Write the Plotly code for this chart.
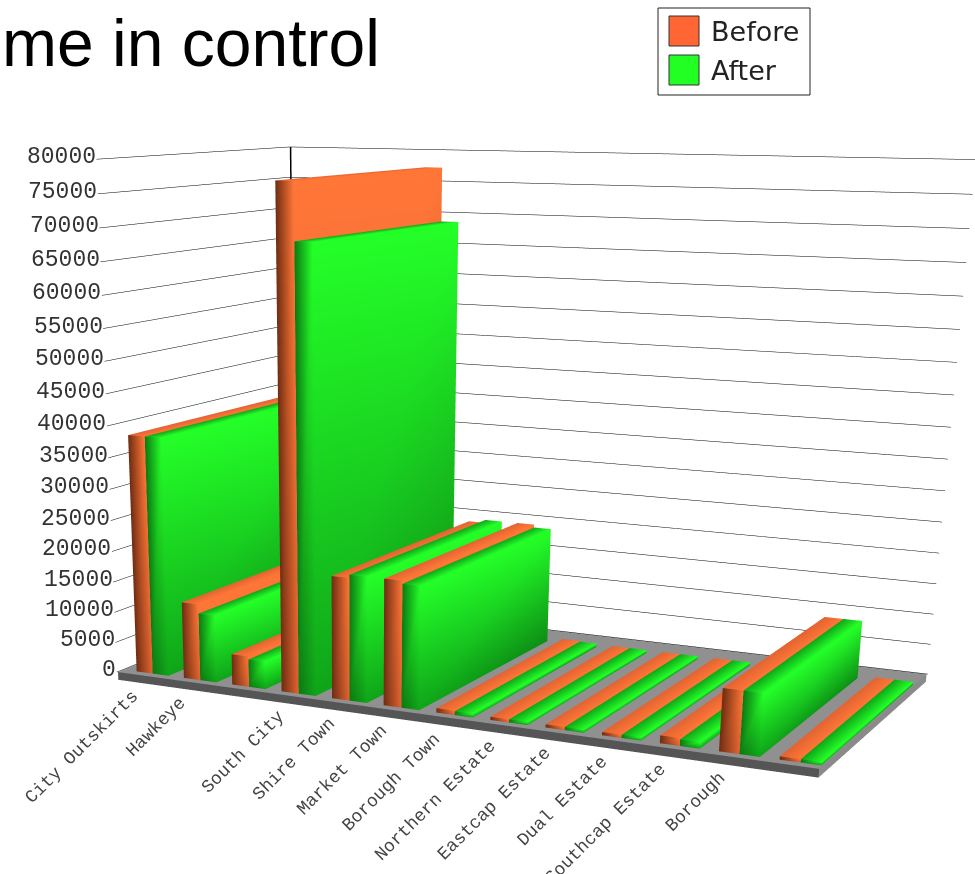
import plotly.graph_objects as go

categories = ["City Outskirts", "Hawkeye", "", "South City", "Shire Town", "Market Town", "Borough Town",
              "Northern Estate", "Eastcap Estate", "Dual Estate", "Southcap Estate", "Borough", ""]
before = [38500, 12500, 5000, 77500, 19500, 20000, 700, 500, 500, 500, 1200, 9500, 500]
after = [38500, 11000, 4500, 69000, 20000, 19500, 600, 500, 500, 500, 1000, 9500, 500]
value_ticks = list(range(0, 80001, 5000))
FIG_W, FIG_H, SHIFT = 1236, 1874, 261


def rgb(c):
    return "rgb(%d,%d,%d)" % c


def bars(values, off, width, dark, mid, bright, name):
    xs, ys, zs, i, j, k, col = [], [], [], [], [], [], []
    deep = tuple((a + b) // 2 for a, b in zip(dark, mid))

    def quad(pts, cols):
        n = len(xs)
        for p, c in zip(pts, cols):
            xs.append(p[0]); ys.append(p[1]); zs.append(p[2]); col.append(rgb(c))
        i.extend([n, n]); j.extend([n + 1, n + 2]); k.extend([n + 2, n + 3])

    y0, y1 = 0.03, 0.87
    for c, v in enumerate(values):
        x0, x1 = c + off, c + off + width
        quad([(x0, y0, v), (x1, y0, v), (x1, y1, v), (x0, y1, v)], [mid, bright, bright, mid])
        quad([(x0, y0, 0), (x1, y0, 0), (x1, y0, v), (x0, y0, v)], [dark, mid, bright, dark])
        quad([(x1, y0, 0), (x1, y1, 0), (x1, y1, v), (x1, y0, v)], [mid, deep, bright, bright])
    return go.Mesh3d(x=xs, y=ys, z=zs, i=i, j=j, k=k, vertexcolor=col, name=name, showlegend=False,
                     hoverinfo="skip",
                     lighting=dict(ambient=1, diffuse=0, specular=0, roughness=1, fresnel=0))


x_lo, x_hi = -0.57, 12.4
floor_z = -1300
fig = go.Figure()
fig.add_trace(go.Mesh3d(
    x=[x_lo, x_hi, x_hi, x_lo, x_lo, x_hi, x_hi, x_lo],
    y=[0, 0, 1, 1, 0, 0, 1, 1],
    z=[floor_z] * 4 + [0] * 4,
    i=[4, 4, 0, 0, 1, 1], j=[5, 6, 1, 5, 2, 6], k=[6, 7, 5, 4, 6, 5],
    facecolor=["#909090", "#909090", "#555555", "#555555", "#8a8a8a", "#8a8a8a"],
    flatshading=True, showlegend=False, hoverinfo="skip",
    lighting=dict(ambient=1, diffuse=0, specular=0, roughness=1, fresnel=0)))
fig.add_trace(go.Scatter3d(x=[x_lo, x_lo], y=[1, 1], z=[0, 80000], mode="lines", showlegend=False,
                           hoverinfo="skip", line=dict(color="#000000", width=3)))
fig.add_trace(bars(before, -0.30, 0.34, (110, 44, 18), (225, 100, 50), (255, 118, 55), "Before"))
fig.add_trace(bars(after, 0.04, 0.34, (12, 120, 18), (15, 165, 25), (36, 255, 40), "After"))

annots = [dict(x=c, y=0, z=floor_z, text=t, textangle=-45, showarrow=False, xanchor="right", yanchor="top",
               font=dict(family="Liberation Mono", size=18, color="#444444"))
          for c, t in enumerate(categories) if t]
annots += [dict(x=x_lo, y=0, z=v, text=str(v), showarrow=False, xanchor="right", yanchor="middle", xshift=0, yshift=2,
                font=dict(family="Liberation Mono", size=23, color="#333333"))
           for v in value_ticks]

hidden = dict(showgrid=False, zeroline=False, showticklabels=False, showline=False, ticks="",
              showbackground=False, title="", showspikes=False)


def px(x):
    return (x + SHIFT) / FIG_W


def py(y):
    return 1 - y / FIG_H


legend_items = [("Before", "#ff6633", 16), ("After", "#22ff22", 55)]
shapes = [dict(type="rect", xref="paper", yref="paper", x0=px(658), x1=px(810), y0=py(95), y1=py(8),
               line=dict(color="#222222", width=1), fillcolor="white")]
notes = []
for name, color, top in legend_items:
    shapes.append(dict(type="rect", xref="paper", yref="paper", x0=px(669), x1=px(699), y0=py(top + 30), y1=py(top),
                       line=dict(color="#333333", width=1), fillcolor=color))
    notes.append(dict(xref="paper", yref="paper", x=px(709), y=py(top + 15), text=name, showarrow=False,
                      xanchor="left", yanchor="middle",
                      font=dict(family="DejaVu Sans", size=27, color="#222222")))

fig.update_layout(
    width=FIG_W, height=FIG_H, margin=dict(l=0, r=0, t=0, b=0), paper_bgcolor="white", showlegend=False,
    title=dict(text="me in control", x=px(2), xanchor="left", xref="paper", yref="container",
               y=py(43), yanchor="middle", font=dict(family="Liberation Sans", size=66, color="black")),
    shapes=shapes, annotations=notes,
    scene=dict(
        domain=dict(x=[0, 1], y=[0, 1]),
        aspectmode="manual", aspectratio=dict(x=1.4057, y=0.715, z=0.9614),
        camera=dict(eye=dict(x=1.6973, y=-3.9527, z=0.6429), center=dict(x=-0.1246, y=-0.4541, z=-0.882),
                    up=dict(x=0, y=0, z=1), projection=dict(type="perspective")),
        xaxis=dict(range=[x_lo - 0.02, x_hi + 0.02], **hidden),
        yaxis=dict(range=[-0.002, 1.002], **hidden),
        zaxis=dict(range=[floor_z - 20, 80000], tickvals=value_ticks, showgrid=True, gridcolor="#000000", gridwidth=1,
                   zeroline=False, showline=False, showbackground=False, title="", ticks="",
                   showticklabels=False, showspikes=False),
        annotations=annots,
    ),
)
fig.write_html("out.html", config=dict(displayModeBar=False),
               post_script="document.body.style.margin='0 0 0 -%dpx';document.body.style.overflow='hidden';" % SHIFT)
